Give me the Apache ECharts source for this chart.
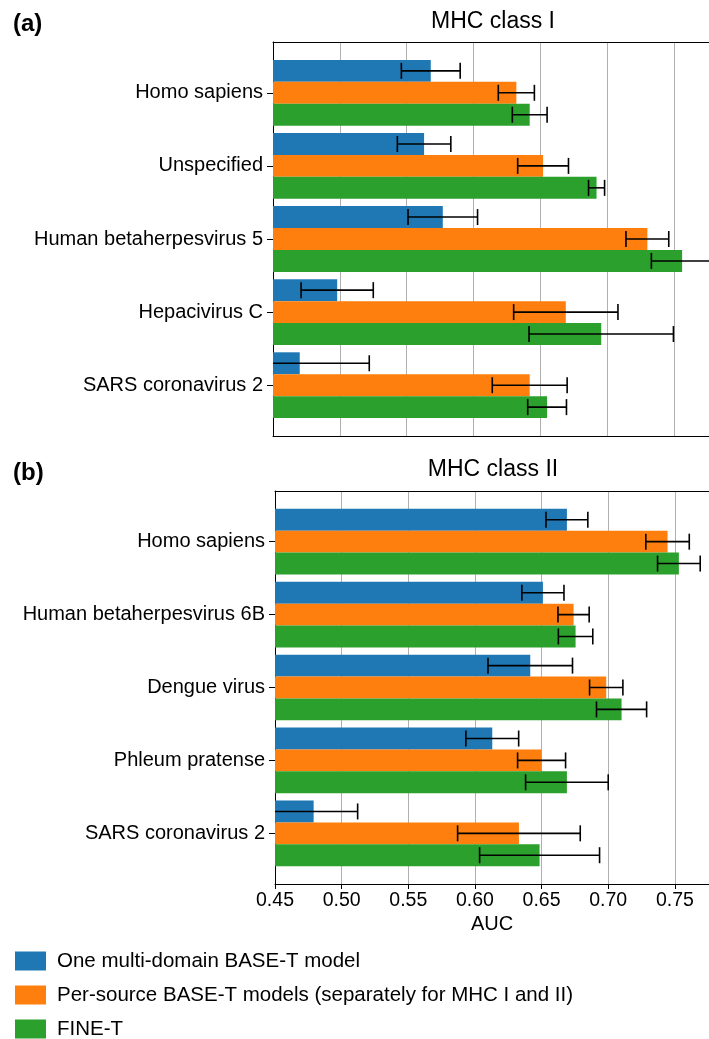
<!DOCTYPE html>
<html><head><meta charset="utf-8">
<script src="https://cdn.jsdelivr.net/npm/echarts@6/dist/echarts.min.js"></script>
<style>html,body{margin:0;padding:0;background:#fff}#c{width:709px;height:1039px}</style>
</head><body><div id="c"></div>
<script>
const seriesNames = ['One multi-domain BASE-T model','Per-source BASE-T models (separately for MHC I and II)','FINE-T'];
const colors = ['#1f77b4','#ff7f0e','#2ca02c'];
const xTicks = [0.45,0.50,0.55,0.60,0.65,0.70,0.75];

// Panel (a) MHC class I
const catsA = ['Homo sapiens','Unspecified','Human betaherpesvirus 5','Hepacivirus C','SARS coronavirus 2'];
const multiA = [0.568, 0.563, 0.577, 0.498, 0.470];
const multiErrA = [0.022, 0.020, 0.026, 0.027, 0.052];
const perSrcA = [0.632, 0.652, 0.730, 0.669, 0.642];
const perSrcErrA = [0.0135, 0.019, 0.016, 0.039, 0.028];
const fineA = [0.642, 0.692, 0.756, 0.6955, 0.655];
const fineErrA = [0.013, 0.006, 0.023, 0.054, 0.0145];

// Panel (b) MHC class II
const catsB = ['Homo sapiens','Human betaherpesvirus 6B','Dengue virus','Phleum pratense','SARS coronavirus 2'];
const multiB = [0.669, 0.651, 0.6415, 0.613, 0.479];
const multiErrB = [0.0157, 0.0158, 0.0317, 0.0198, 0.033];
const perSrcB = [0.7445, 0.674, 0.6985, 0.650, 0.633];
const perSrcErrB = [0.0163, 0.0117, 0.0125, 0.018, 0.046];
const fineB = [0.753, 0.6755, 0.710, 0.669, 0.6485];
const fineErrB = [0.016, 0.0129, 0.0188, 0.031, 0.045];

const FONT = '"Liberation Sans", Arial, sans-serif';
const XMIN = 0.45;
const XMAXS = [0.7761, 0.7756];

function mkData(vals, errs){ return vals.map((v,i)=>[v,i,errs[i]]); }

function renderFor(k){
  const off = (k-1)*0.3;
  return function(params, api){
    const v = api.value(0), c = api.value(1), e = api.value(2);
    const yc = c + off;
    const p0 = api.coord([XMIN, yc - 0.15]);
    const p1 = api.coord([v, yc + 0.15]);
    const top = Math.min(p0[1], p1[1]), h = Math.abs(p1[1]-p0[1]);
    const pc = api.coord([v, yc]);
    const pl = api.coord([v-e, yc]);
    const pr = api.coord([v+e, yc]);
    const cap = 8;
    const lineStyle = {stroke:'#000', lineWidth:1.6};
    return {type:'group', children:[
      {type:'rect', shape:{x:p0[0], y:top, width:p1[0]-p0[0], height:h}, style:{fill:colors[k]}},
      {type:'line', shape:{x1:pl[0], y1:pc[1], x2:pr[0], y2:pc[1]}, style:lineStyle, z2:10},
      {type:'line', shape:{x1:pl[0], y1:pc[1]-cap, x2:pl[0], y2:pc[1]+cap}, style:lineStyle, z2:10},
      {type:'line', shape:{x1:pr[0], y1:pc[1]-cap, x2:pr[0], y2:pc[1]+cap}, style:lineStyle, z2:10}
    ]};
  };
}

const panels = [
  {cats:catsA, vals:[multiA,perSrcA,fineA], errs:[multiErrA,perSrcErrA,fineErrA]},
  {cats:catsB, vals:[multiB,perSrcB,fineB], errs:[multiErrB,perSrcErrB,fineErrB]}
];

const grids = [
  {left:273, top:42, height:394, right:0, show:false},
  {left:275, top:491, height:393, right:0, show:false}
];

const xAxes = [];
[0,1].forEach(i=>{
  xAxes.push({
    type:'value', gridIndex:i, position:'bottom', min:XMIN, max:XMAXS[i], interval:0.05,
    axisLine:{show:true, onZero:false, lineStyle:{color:'#000', width:1}},
    axisTick:{show:i===1, length:5, lineStyle:{color:'#000'}, customValues:xTicks},
    axisLabel:{show:i===1, customValues:xTicks, margin:7, fontSize:19.5, color:'#000', fontFamily:FONT, formatter:v=>v.toFixed(2)},
    splitLine:{show:true, lineStyle:{color:'#b0b0b0', width:1}},
    name: i===1 ? 'AUC' : '', nameLocation:'middle', nameGap:30,
    nameTextStyle:{fontSize:20, color:'#000', fontFamily:FONT}
  });
  xAxes.push({
    type:'value', gridIndex:i, position:'top', min:XMIN, max:XMAXS[i],
    axisLine:{show:true, onZero:false, lineStyle:{color:'#000', width:1}},
    axisTick:{show:false}, axisLabel:{show:false}, splitLine:{show:false}
  });
});

const catIdx = [0,1,2,3,4];
const yAxes = [0,1].map(i=>({
  type:'value', gridIndex:i, inverse:true, min:-0.695, max:4.695,
  axisLine:{show:true, onZero:false, lineStyle:{color:'#000', width:1}},
  axisTick:{show:true, length:6, lineStyle:{color:'#000'}, customValues:catIdx},
  axisLabel:{show:true, customValues:catIdx, margin:10, fontSize:20, color:'#000', fontFamily:FONT,
    formatter:v=>panels[i].cats[Math.round(v)]},
  splitLine:{show:false}
}));

const series = [];
panels.forEach((p,gi)=>{
  [0,1,2].forEach(k=>{
    series.push({
      type:'custom', name:seriesNames[k], xAxisIndex:gi*2, yAxisIndex:gi, clip:true,
      itemStyle:{color:colors[k]},
      renderItem:renderFor(k),
      encode:{x:0, y:1},
      data:mkData(p.vals[k], p.errs[k])
    });
  });
});

const legends = seriesNames.map((n,k)=>({
  data:[n], orient:'vertical', left:15, top:950.5 + k*34, padding:0,
  itemWidth:31, itemHeight:19, icon:'rect',
  textStyle:{fontSize:20.5, color:'#000', fontFamily:FONT, padding:[0,0,0,6]}
}));

const chart = echarts.init(document.getElementById('c'), null, {renderer:'canvas'});
chart.setOption({
  animation:false,
  backgroundColor:'#fff',
  title:[
    {text:'(a)', left:13, top:12, padding:0, textStyle:{fontSize:24, fontWeight:'bold', color:'#000', fontFamily:FONT}},
    {text:'MHC class I', left:493, top:10, padding:0, textAlign:'center', textStyle:{fontSize:23, fontWeight:'normal', color:'#000', fontFamily:FONT}},
    {text:'(b)', left:13, top:461, padding:0, textStyle:{fontSize:24, fontWeight:'bold', color:'#000', fontFamily:FONT}},
    {text:'MHC class II', left:493, top:458, padding:0, textAlign:'center', textStyle:{fontSize:23, fontWeight:'normal', color:'#000', fontFamily:FONT}}
  ],
  legend:legends,
  grid:grids, xAxis:xAxes, yAxis:yAxes, series:series
});
</script></body></html>
